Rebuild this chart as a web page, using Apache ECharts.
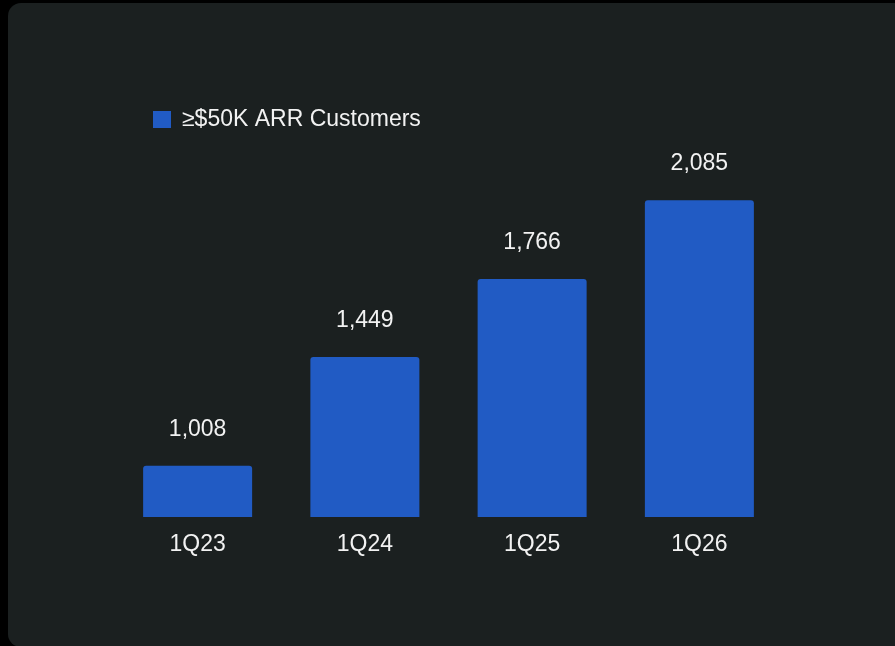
<!DOCTYPE html>
<html>
<head>
<meta charset="utf-8">
<script src="https://cdn.jsdelivr.net/npm/echarts@6/dist/echarts.min.js"></script>
<style>
  html, body { margin: 0; padding: 0; background: #000; width: 895px; height: 646px; overflow: hidden; }
  #panel { position: absolute; left: 8px; top: 3px; width: 920px; height: 644px; background: #1b2020; border-radius: 13px; }
  #chart { position: absolute; left: 0; top: 0; width: 895px; height: 646px; }
</style>
</head>
<body>
<div id="panel"></div>
<div id="chart"></div>
<script>
// Customers with at least $50K in annual recurring revenue, by fiscal quarter
const quarters = ['1Q23', '1Q24', '1Q25', '1Q26'];
const customers = [1008, 1449, 1766, 2085];
const seriesName = '≥$50K ARR Customers';

const textColor = '#f2f2f2';
const barColor = '#215bc4';
const fontFamily = '"Liberation Sans", Arial, sans-serif';

const chart = echarts.init(document.getElementById('chart'));
chart.setOption({
  backgroundColor: 'transparent',
  animation: false,
  legend: {
    left: 148,
    top: 103,
    itemWidth: 18,
    itemHeight: 17,
    icon: 'rect',
    textStyle: { color: textColor, fontSize: 23, fontFamily: fontFamily, padding: [0, 0, 0, 6] },
    data: [seriesName]
  },
  grid: { left: 114, right: 112, top: 172, bottom: 129 },
  xAxis: {
    type: 'category',
    data: quarters,
    axisLine: { show: false },
    axisTick: { show: false },
    axisLabel: { color: textColor, fontSize: 23, fontFamily: fontFamily, margin: 16 }
  },
  yAxis: {
    type: 'value',
    min: 800,
    max: 2200,
    show: false,
    splitLine: { show: false }
  },
  series: [{
    name: seriesName,
    type: 'bar',
    data: customers,
    barWidth: 109,
    itemStyle: { color: barColor, borderRadius: [3, 3, 0, 0] },
    label: {
      show: true,
      position: 'top',
      distance: 25,
      color: textColor,
      fontSize: 23,
      fontFamily: fontFamily,
      formatter: p => p.value.toLocaleString('en-US')
    }
  }]
});
</script>
</body>
</html>
